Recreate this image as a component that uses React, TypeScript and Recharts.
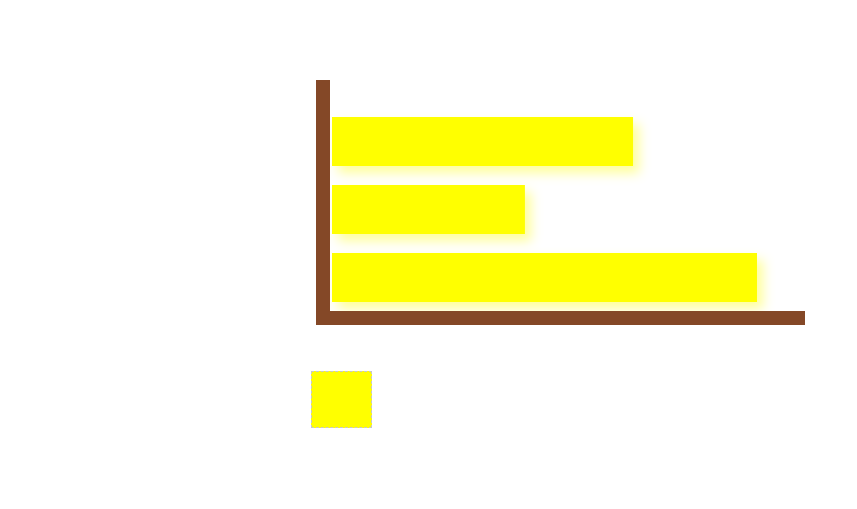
import React from 'react';
import { BarChart, Bar, XAxis, YAxis, Legend } from 'recharts';

const categories = ['A', 'B', 'C'];
const seriesValues = [64.6, 41.4, 91.2];

const data = categories.map((name, i) => ({ name, value: seriesValues[i] }));

const BROWN = '#844827';

const LegendBox = () => (
  <div
    style={{
      width: 59,
      height: 55,
      background: '#ffff00',
      border: '1px dashed #c8c8c8',
    }}
  />
);

export default function App() {
  return (
    <BarChart
      width={840}
      height={480}
      data={data}
      layout="vertical"
      margin={{ top: 79, right: 50, bottom: 140, left: 255 }}
    >
      <defs>
        <filter id="barShadow" x="-20%" y="-50%" width="150%" height="220%">
          <feDropShadow dx="6" dy="7" stdDeviation="6" floodColor="#ffff00" floodOpacity="0.4" />
        </filter>
      </defs>
      <XAxis
        type="number"
        domain={[0, 100]}
        padding={{ left: 9, right: 0 }}
        tick={false}
        tickLine={false}
        axisLine={{ stroke: BROWN, strokeWidth: 14, strokeLinecap: 'square' }}
        height={30}
      />
      <YAxis
        type="category"
        dataKey="name"
        padding={{ top: 20, bottom: 7 }}
        tick={false}
        tickLine={false}
        axisLine={{ stroke: BROWN, strokeWidth: 14, strokeLinecap: 'square' }}
        width={60}
      />
      <Legend
        layout="horizontal"
        verticalAlign="middle"
        align="center"
        content={<LegendBox />}
        wrapperStyle={{ position: 'absolute', left: 303, top: 363, width: 'auto', height: 'auto' }}
      />
      <Bar
        dataKey="value"
        fill="#ffff00"
        barSize={49}
        filter="url(#barShadow)"
        isAnimationActive={false}
      />
    </BarChart>
  );
}
